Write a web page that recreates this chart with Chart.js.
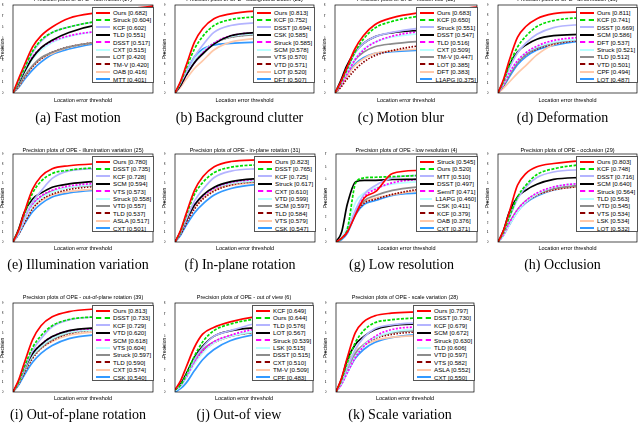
<!DOCTYPE html>
<html>
<head>
<meta charset="utf-8">
<script src="https://cdn.jsdelivr.net/npm/chart.js@4"></script>
<style>
body { margin: 0; width: 640px; height: 424px; background: #fff; position: relative; overflow: hidden; font-family: "Liberation Sans", Arial, sans-serif; }
canvas { position: absolute; }
.ttl, .xl, .cap, .yl { position: absolute; white-space: nowrap; color: #000; }
.ttl { font-size: 5.5px; line-height: 6px; transform: translateX(-50%); }
.xl { font-size: 5.5px; line-height: 6px; transform: translateX(-50%); }
.yl { font-size: 5px; line-height: 6px; transform: translate(-50%, -50%) rotate(-90deg); }
.cap { font-family: "Liberation Serif", "Times New Roman", serif; font-size: 14px; line-height: 16px; transform: translateX(-50%); }
.lg { position: absolute; background: #fff; border: 0.6px solid #555; box-sizing: border-box; padding: 1px 1px 0 3px; }
.lg div { height: 7.4px; line-height: 7.4px; font-size: 6.2px; display: flex; align-items: center; white-space: nowrap; }
.lg span.s { display: inline-block; width: 14px; margin-right: 3px; border-top-width: 2px; }
</style>
</head>
<body>
<script>
const thresholds = [0, 2, 4, 7, 10, 14, 20, 30, 50];
const rankColors = ["#ff0000", "#00dd00", "#b4b4ff", "#000000", "#ff00ff", "#b8ffff", "#8c8c8c", "#8b0000", "#ffc8a8", "#3399ff"];
const rankDash = [[], [3, 1.5], [], [], [2, 1.5], [], [], [1.5, 1.5], [], []];

// (a) fast motion
const fmNames = ["Ours", "Struck", "KCF", "TLD", "DSST", "CXT", "LOT", "TM-V", "OAB", "MTT"];
const fmScores = [0.682, 0.604, 0.602, 0.551, 0.517, 0.515, 0.420, 0.420, 0.416, 0.401];
const fmCurves = [
    [0, 0.13, 0.25, 0.42, 0.52, 0.60, 0.68, 0.73, 0.79],
    [0, 0.11, 0.22, 0.38, 0.48, 0.55, 0.60, 0.65, 0.70],
    [0, 0.10, 0.21, 0.37, 0.47, 0.55, 0.60, 0.65, 0.70],
    [0, 0.09, 0.19, 0.32, 0.41, 0.48, 0.55, 0.62, 0.66],
    [0, 0.10, 0.20, 0.33, 0.41, 0.47, 0.52, 0.56, 0.60],
    [0, 0.09, 0.18, 0.31, 0.39, 0.46, 0.515, 0.56, 0.60],
    [0, 0.07, 0.15, 0.25, 0.32, 0.37, 0.42, 0.46, 0.50],
    [0, 0.06, 0.14, 0.24, 0.31, 0.37, 0.42, 0.46, 0.50],
    [0, 0.06, 0.14, 0.24, 0.31, 0.36, 0.416, 0.46, 0.49],
    [0, 0.05, 0.12, 0.21, 0.28, 0.35, 0.40, 0.45, 0.48]
];

// (b) background clutter
const bcNames = ["Ours", "KCF", "DSST", "CSK", "Struck", "SCM", "VTS", "VTD", "LOT", "DFT"];
const bcScores = [0.813, 0.752, 0.694, 0.585, 0.585, 0.578, 0.570, 0.571, 0.520, 0.507];
const bcCurves = [
    [0, 0.12, 0.28, 0.52, 0.66, 0.76, 0.81, 0.84, 0.86],
    [0, 0.11, 0.25, 0.45, 0.58, 0.69, 0.75, 0.78, 0.80],
    [0, 0.10, 0.21, 0.37, 0.49, 0.62, 0.69, 0.72, 0.75],
    [0, 0.08, 0.18, 0.31, 0.40, 0.50, 0.585, 0.62, 0.65],
    [0, 0.08, 0.18, 0.31, 0.41, 0.51, 0.585, 0.62, 0.65],
    [0, 0.09, 0.20, 0.34, 0.43, 0.51, 0.578, 0.61, 0.64],
    [0, 0.08, 0.19, 0.33, 0.42, 0.51, 0.57, 0.60, 0.63],
    [0, 0.08, 0.19, 0.32, 0.42, 0.51, 0.571, 0.60, 0.63],
    [0, 0.06, 0.14, 0.25, 0.33, 0.44, 0.52, 0.56, 0.60],
    [0, 0.09, 0.21, 0.37, 0.45, 0.49, 0.507, 0.52, 0.54]
];

// (c) motion blur
const mbNames = ["Ours", "KCF", "Struck", "DSST", "TLD", "CXT", "TM-V", "LOT", "DFT", "L1APG"];
const mbScores = [0.683, 0.650, 0.551, 0.547, 0.516, 0.509, 0.447, 0.385, 0.383, 0.375];
const mbCurves = [
    [0, 0.10, 0.22, 0.40, 0.52, 0.62, 0.683, 0.73, 0.78],
    [0, 0.09, 0.20, 0.37, 0.49, 0.59, 0.65, 0.70, 0.75],
    [0, 0.09, 0.20, 0.36, 0.45, 0.51, 0.551, 0.59, 0.63],
    [0, 0.11, 0.24, 0.37, 0.45, 0.51, 0.547, 0.57, 0.60],
    [0, 0.07, 0.16, 0.30, 0.39, 0.46, 0.516, 0.56, 0.60],
    [0, 0.08, 0.17, 0.31, 0.40, 0.46, 0.509, 0.54, 0.57],
    [0, 0.08, 0.17, 0.30, 0.37, 0.42, 0.447, 0.47, 0.50],
    [0, 0.05, 0.12, 0.21, 0.28, 0.34, 0.385, 0.43, 0.47],
    [0, 0.06, 0.14, 0.25, 0.31, 0.36, 0.383, 0.40, 0.42],
    [0, 0.07, 0.15, 0.26, 0.32, 0.36, 0.375, 0.39, 0.40]
];

// (d) deformation
const dfNames = ["Ours", "KCF", "DSST", "SCM", "DFT", "Struck", "TLD", "VTD", "CPF", "LOT"];
const dfScores = [0.811, 0.741, 0.669, 0.586, 0.537, 0.521, 0.512, 0.501, 0.494, 0.487];
const dfCurves = [
    [0, 0.14, 0.33, 0.57, 0.68, 0.76, 0.811, 0.83, 0.85],
    [0, 0.12, 0.28, 0.47, 0.58, 0.68, 0.741, 0.77, 0.79],
    [0, 0.11, 0.25, 0.41, 0.51, 0.60, 0.669, 0.70, 0.73],
    [0, 0.12, 0.28, 0.42, 0.49, 0.55, 0.586, 0.60, 0.62],
    [0, 0.09, 0.20, 0.33, 0.41, 0.48, 0.537, 0.57, 0.60],
    [0, 0.09, 0.20, 0.33, 0.41, 0.47, 0.521, 0.55, 0.58],
    [0, 0.08, 0.18, 0.31, 0.39, 0.46, 0.512, 0.55, 0.58],
    [0, 0.08, 0.18, 0.31, 0.39, 0.45, 0.501, 0.54, 0.57],
    [0, 0.05, 0.11, 0.20, 0.28, 0.39, 0.494, 0.55, 0.59],
    [0, 0.07, 0.16, 0.29, 0.37, 0.44, 0.487, 0.53, 0.56]
];

// (e) illumination variation
const ivNames = ["Ours", "DSST", "KCF", "SCM", "VTS", "Struck", "VTD", "TLD", "ASLA", "CXT"];
const ivScores = [0.780, 0.735, 0.728, 0.594, 0.573, 0.558, 0.557, 0.537, 0.517, 0.501];
const ivCurves = [
    [0, 0.12, 0.30, 0.54, 0.67, 0.75, 0.78, 0.80, 0.82],
    [0, 0.12, 0.28, 0.50, 0.62, 0.70, 0.735, 0.76, 0.78],
    [0, 0.10, 0.24, 0.41, 0.52, 0.65, 0.728, 0.75, 0.77],
    [0, 0.13, 0.30, 0.44, 0.50, 0.56, 0.594, 0.62, 0.64],
    [0, 0.10, 0.24, 0.39, 0.47, 0.53, 0.573, 0.60, 0.62],
    [0, 0.09, 0.22, 0.37, 0.45, 0.51, 0.558, 0.59, 0.62],
    [0, 0.10, 0.23, 0.38, 0.46, 0.52, 0.557, 0.58, 0.61],
    [0, 0.08, 0.19, 0.34, 0.43, 0.49, 0.537, 0.57, 0.60],
    [0, 0.09, 0.21, 0.35, 0.42, 0.48, 0.517, 0.54, 0.56],
    [0, 0.08, 0.18, 0.31, 0.39, 0.46, 0.501, 0.53, 0.56]
];

// (f) in-plane rotation
const irNames = ["Ours", "DSST", "KCF", "Struck", "CXT", "VTD", "SCM", "TLD", "VTS", "CSK"];
const irScores = [0.823, 0.765, 0.725, 0.617, 0.610, 0.599, 0.597, 0.584, 0.579, 0.547];
const irCurves = [
    [0, 0.12, 0.29, 0.53, 0.67, 0.77, 0.823, 0.84, 0.86],
    [0, 0.11, 0.27, 0.49, 0.61, 0.71, 0.765, 0.79, 0.81],
    [0, 0.10, 0.23, 0.42, 0.54, 0.66, 0.725, 0.75, 0.77],
    [0, 0.10, 0.22, 0.38, 0.48, 0.56, 0.617, 0.65, 0.68],
    [0, 0.10, 0.22, 0.38, 0.47, 0.55, 0.610, 0.64, 0.67],
    [0, 0.10, 0.22, 0.38, 0.47, 0.55, 0.599, 0.63, 0.65],
    [0, 0.10, 0.23, 0.38, 0.47, 0.55, 0.597, 0.62, 0.64],
    [0, 0.08, 0.19, 0.34, 0.44, 0.52, 0.584, 0.62, 0.65],
    [0, 0.09, 0.21, 0.36, 0.45, 0.53, 0.579, 0.61, 0.63],
    [0, 0.07, 0.17, 0.30, 0.39, 0.48, 0.547, 0.59, 0.62]
];

// (g) low resolution
const lrNames = ["Struck", "Ours", "MTT", "DSST", "SemiT", "L1APG", "CSK", "KCF", "OAB", "CXT"];
const lrScores = [0.545, 0.520, 0.510, 0.497, 0.471, 0.460, 0.411, 0.379, 0.376, 0.371];
const lrCurves = [
    [0, 0.03, 0.08, 0.22, 0.35, 0.40, 0.545, 0.57, 0.59],
    [0, 0.03, 0.10, 0.47, 0.51, 0.515, 0.52, 0.53, 0.55],
    [0, 0.03, 0.09, 0.26, 0.38, 0.45, 0.51, 0.53, 0.55],
    [0, 0.08, 0.30, 0.48, 0.49, 0.49, 0.497, 0.50, 0.52],
    [0, 0.03, 0.08, 0.25, 0.36, 0.42, 0.471, 0.50, 0.52],
    [0, 0.04, 0.12, 0.32, 0.39, 0.43, 0.46, 0.48, 0.50],
    [0, 0.03, 0.09, 0.24, 0.33, 0.37, 0.411, 0.44, 0.47],
    [0, 0.03, 0.08, 0.23, 0.31, 0.34, 0.379, 0.42, 0.45],
    [0, 0.03, 0.08, 0.24, 0.32, 0.35, 0.376, 0.41, 0.44],
    [0, 0.02, 0.07, 0.22, 0.30, 0.33, 0.371, 0.39, 0.42]
];

// (h) occlusion
const ocNames = ["Ours", "KCF", "DSST", "SCM", "Struck", "TLD", "VTD", "VTS", "LSK", "LOT"];
const ocScores = [0.803, 0.748, 0.716, 0.640, 0.564, 0.563, 0.545, 0.534, 0.534, 0.532];
const ocCurves = [
    [0, 0.12, 0.30, 0.58, 0.70, 0.77, 0.803, 0.83, 0.85],
    [0, 0.10, 0.25, 0.46, 0.58, 0.69, 0.748, 0.79, 0.81],
    [0, 0.10, 0.24, 0.44, 0.56, 0.66, 0.716, 0.74, 0.76],
    [0, 0.12, 0.30, 0.46, 0.53, 0.59, 0.640, 0.66, 0.68],
    [0, 0.08, 0.19, 0.33, 0.42, 0.50, 0.564, 0.60, 0.63],
    [0, 0.07, 0.17, 0.31, 0.41, 0.49, 0.563, 0.60, 0.63],
    [0, 0.08, 0.19, 0.33, 0.42, 0.49, 0.545, 0.58, 0.61],
    [0, 0.08, 0.18, 0.32, 0.41, 0.48, 0.534, 0.57, 0.60],
    [0, 0.08, 0.18, 0.32, 0.41, 0.48, 0.534, 0.57, 0.60],
    [0, 0.07, 0.17, 0.31, 0.40, 0.47, 0.532, 0.57, 0.60]
];

// (i) out-of-plane rotation
const orNames = ["Ours", "DSST", "KCF", "VTD", "SCM", "VTS", "Struck", "TLD", "CXT", "CSK"];
const orScores = [0.813, 0.733, 0.729, 0.620, 0.618, 0.604, 0.597, 0.590, 0.574, 0.540];
const orCurves = [
    [0, 0.12, 0.29, 0.53, 0.67, 0.76, 0.813, 0.84, 0.86],
    [0, 0.10, 0.25, 0.45, 0.57, 0.67, 0.733, 0.76, 0.78],
    [0, 0.10, 0.23, 0.42, 0.54, 0.66, 0.729, 0.76, 0.78],
    [0, 0.10, 0.23, 0.39, 0.48, 0.56, 0.620, 0.65, 0.67],
    [0, 0.10, 0.24, 0.39, 0.48, 0.56, 0.618, 0.64, 0.66],
    [0, 0.09, 0.22, 0.37, 0.46, 0.54, 0.604, 0.63, 0.66],
    [0, 0.09, 0.21, 0.36, 0.45, 0.53, 0.597, 0.63, 0.66],
    [0, 0.08, 0.19, 0.34, 0.44, 0.52, 0.590, 0.63, 0.66],
    [0, 0.09, 0.21, 0.36, 0.44, 0.51, 0.574, 0.61, 0.64],
    [0, 0.07, 0.17, 0.30, 0.39, 0.47, 0.540, 0.58, 0.61]
];

// (j) out of view
const ovNames = ["KCF", "Ours", "TLD", "LOT", "Struck", "LSK", "DSST", "CXT", "TM-V", "CPF"];
const ovScores = [0.649, 0.644, 0.576, 0.567, 0.539, 0.515, 0.515, 0.510, 0.509, 0.483];
const ovCurves = [
    [0.02, 0.10, 0.22, 0.40, 0.52, 0.58, 0.63, 0.68, 0.72],
    [0.02, 0.06, 0.15, 0.32, 0.45, 0.55, 0.61, 0.66, 0.70],
    [0.03, 0.06, 0.14, 0.29, 0.40, 0.50, 0.55, 0.62, 0.68],
    [0.02, 0.07, 0.16, 0.31, 0.41, 0.50, 0.55, 0.58, 0.62],
    [0.02, 0.06, 0.13, 0.27, 0.37, 0.45, 0.51, 0.57, 0.60],
    [0.01, 0.05, 0.12, 0.25, 0.35, 0.44, 0.50, 0.55, 0.58],
    [0.02, 0.06, 0.14, 0.28, 0.38, 0.45, 0.50, 0.54, 0.57],
    [0.02, 0.06, 0.13, 0.27, 0.36, 0.44, 0.50, 0.54, 0.57],
    [0.02, 0.06, 0.13, 0.26, 0.36, 0.44, 0.50, 0.54, 0.56],
    [0, 0.03, 0.08, 0.19, 0.29, 0.38, 0.46, 0.52, 0.56]
];

// (k) scale variation
const svNames = ["Ours", "DSST", "KCF", "SCM", "Struck", "TLD", "VTD", "VTS", "ASLA", "CXT"];
const svScores = [0.797, 0.730, 0.679, 0.672, 0.630, 0.606, 0.597, 0.582, 0.552, 0.550];
const svCurves = [
    [0, 0.14, 0.34, 0.60, 0.71, 0.77, 0.797, 0.81, 0.83],
    [0, 0.12, 0.29, 0.50, 0.62, 0.70, 0.730, 0.75, 0.77],
    [0, 0.10, 0.24, 0.43, 0.55, 0.64, 0.679, 0.70, 0.72],
    [0, 0.13, 0.32, 0.48, 0.56, 0.63, 0.672, 0.69, 0.71],
    [0, 0.08, 0.19, 0.35, 0.46, 0.56, 0.630, 0.66, 0.69],
    [0, 0.08, 0.19, 0.36, 0.47, 0.55, 0.606, 0.64, 0.67],
    [0, 0.10, 0.23, 0.39, 0.48, 0.55, 0.597, 0.62, 0.64],
    [0, 0.09, 0.22, 0.38, 0.47, 0.54, 0.582, 0.61, 0.63],
    [0, 0.12, 0.28, 0.41, 0.47, 0.52, 0.552, 0.57, 0.59],
    [0, 0.08, 0.19, 0.34, 0.43, 0.50, 0.550, 0.58, 0.60]
];

// layout: plot box in page pixels, and where the row's texts sit
const rows = [
    { top: 5, bottom: 93, title: -4, xlabel: 97, caption: 110 },
    { top: 154, bottom: 242, title: 147, xlabel: 245, caption: 257 },
    { top: 303, bottom: 392, title: 294, xlabel: 395, caption: 407 }
];

const panels = [
    { row: 0, left: 13, right: 153, yMax: 0.8, title: "fast motion (17)", caption: "(a) Fast motion", names: fmNames, scores: fmScores, curves: fmCurves },
    { row: 0, left: 175, right: 314, yMax: 0.9, title: "background clutter (21)", caption: "(b) Background clutter", names: bcNames, scores: bcScores, curves: bcCurves },
    { row: 0, left: 335, right: 477, yMax: 0.8, title: "motion blur (12)", caption: "(c) Motion blur", names: mbNames, scores: mbScores, curves: mbCurves },
    { row: 0, left: 498, right: 637, yMax: 0.9, title: "deformation (19)", caption: "(d) Deformation", names: dfNames, scores: dfScores, curves: dfCurves },
    { row: 1, left: 13, right: 153, yMax: 0.9, title: "illumination variation (25)", caption: "(e) Illumination variation", names: ivNames, scores: ivScores, curves: ivCurves },
    { row: 1, left: 175, right: 315, yMax: 0.9, title: "in-plane rotation (31)", caption: "(f) In-plane rotation", names: irNames, scores: irScores, curves: irCurves },
    { row: 1, left: 336, right: 477, yMax: 0.7, title: "low resolution (4)", caption: "(g) Low resolution", names: lrNames, scores: lrScores, curves: lrCurves },
    { row: 1, left: 498, right: 637, yMax: 0.9, title: "occlusion (29)", caption: "(h) Occlusion", names: ocNames, scores: ocScores, curves: ocCurves },
    { row: 2, left: 13, right: 153, yMax: 0.9, title: "out-of-plane rotation (39)", caption: "(i) Out-of-plane rotation", names: orNames, scores: orScores, curves: orCurves },
    { row: 2, left: 175, right: 313, yMax: 0.8, title: "out of view (6)", caption: "(j) Out-of view", names: ovNames, scores: ovScores, curves: ovCurves },
    { row: 2, left: 336, right: 474, yMax: 0.9, title: "scale variation (28)", caption: "(k) Scale variation", names: svNames, scores: svScores, curves: svCurves }
];

Chart.defaults.font.family = "'Liberation Sans', Arial, sans-serif";
Chart.defaults.color = "#000";

const boxPlugin = {
    id: "box",
    afterDraw(chart) {
        const a = chart.chartArea;
        const ctx = chart.ctx;
        ctx.save();
        ctx.strokeStyle = "#000";
        ctx.lineWidth = 0.7;
        ctx.strokeRect(a.left, a.top, a.right - a.left, a.bottom - a.top);
        ctx.restore();
    }
};

function addText(cls, text, x, y) {
    const el = document.createElement("div");
    el.className = cls;
    el.textContent = text;
    el.style.left = x + "px";
    el.style.top = y + "px";
    document.body.appendChild(el);
    return el;
}

const PADL = 11, PADT = 6, PADR = 4, PADB = 10;

panels.forEach(p => {
    const r = rows[p.row];
    const w = p.right - p.left;
    const h = r.bottom - r.top;
    const cx = (p.left + p.right) / 2;

    const canvas = document.createElement("canvas");
    canvas.width = w + PADL + PADR;
    canvas.height = h + PADT + PADB;
    canvas.style.left = (p.left - PADL) + "px";
    canvas.style.top = (r.top - PADT) + "px";
    document.body.appendChild(canvas);

    const datasets = p.curves.map((vals, i) => ({
        label: p.names[i],
        data: vals.map((v, k) => ({ x: thresholds[k], y: v })),
        borderColor: rankColors[i],
        borderDash: rankDash[i],
        borderWidth: 1.7,
        pointRadius: 0,
        cubicInterpolationMode: "monotone",
        fill: false
    }));

    new Chart(canvas.getContext("2d"), {
        type: "line",
        data: { datasets },
        options: {
            responsive: false,
            animation: false,
            devicePixelRatio: 1,
            layout: { padding: { top: PADT, right: PADR, left: 0, bottom: 0 } },
            plugins: { legend: { display: false }, tooltip: { enabled: false } },
            scales: {
                x: {
                    type: "linear", min: 0, max: 50,
                    afterFit: s => { s.height = PADB; },
                    ticks: { stepSize: 10, font: { size: 4 }, padding: 1, maxRotation: 0 },
                    grid: { display: false },
                    border: { display: false }
                },
                y: {
                    type: "linear", min: 0, max: p.yMax,
                    afterFit: s => { s.width = PADL; },
                    ticks: {
                        stepSize: 0.1, font: { size: 4 }, padding: 1.5,
                        callback: v => (v === 0 ? "0" : v.toFixed(1))
                    },
                    grid: { display: false },
                    border: { display: false }
                }
            }
        },
        plugins: [boxPlugin]
    });

    addText("ttl", "Precision plots of OPE - " + p.title, cx, r.title);
    addText("xl", "Location error threshold", cx, r.xlabel);
    addText("yl", "Precision", p.left - 11, (r.top + r.bottom) / 2);
    addText("cap", p.caption, cx - 5, r.caption);

    const lg = document.createElement("div");
    lg.className = "lg";
    lg.style.left = (p.right + 1 - 62) + "px";
    lg.style.top = (r.top + 2) + "px";
    lg.style.width = "62px";
    lg.style.height = "76px";
    p.names.forEach((name, i) => {
        const row = document.createElement("div");
        const s = document.createElement("span");
        s.className = "s";
        s.style.borderTopStyle = rankDash[i].length ? "dashed" : "solid";
        s.style.borderTopColor = rankColors[i];
        row.appendChild(s);
        row.appendChild(document.createTextNode(name + " [" + p.scores[i].toFixed(3) + "]"));
        lg.appendChild(row);
    });
    document.body.appendChild(lg);
});
</script>
</body>
</html>
